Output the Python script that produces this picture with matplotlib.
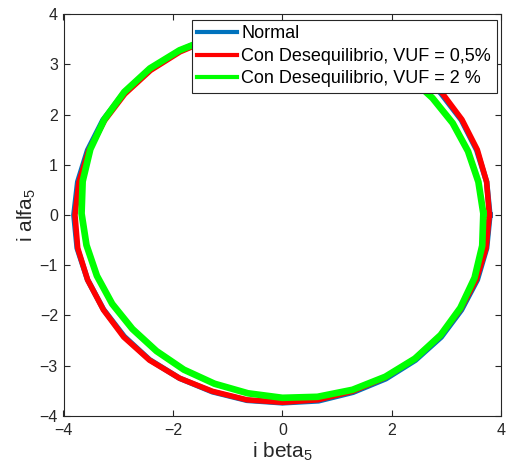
import matplotlib
matplotlib.use("Agg")
import matplotlib.pyplot as plt

# Normal
normal_x = [3.79, 3.73, 3.55, 3.27, 2.89, 2.43, 1.89, 1.29, 0.66, 0.00,
            -0.66, -1.29, -1.89, -2.43, -2.90, -3.28, -3.56, -3.74, -3.81,
            -3.75, -3.56, -3.27, -2.89, -2.43, -1.88, -1.28, -0.65, 0.00,
            0.66, 1.29, 1.89, 2.43, 2.90, 3.27, 3.56, 3.73, 3.79]
normal_y = [0.00, 0.66, 1.29, 1.89, 2.43, 2.89, 3.27, 3.55, 3.72, 3.78,
            3.72, 3.55, 3.27, 2.90, 2.43, 1.89, 1.29, 0.66, 0.00,
            -0.66, -1.29, -1.88, -2.42, -2.88, -3.25, -3.52, -3.69, -3.74,
            -3.70, -3.53, -3.26, -2.89, -2.43, -1.89, -1.29, -0.66, 0.00]

# VUF = 0,5%
vuf05_x = [3.78, 3.73, 3.56, 3.28, 2.91, 2.44, 1.90, 1.29, 0.65, 0.00,
           -0.65, -1.28, -1.87, -2.41, -2.88, -3.25, -3.54, -3.72, -3.79,
           -3.74, -3.56, -3.27, -2.90, -2.43, -1.88, -1.28, -0.65, 0.00,
           0.65, 1.28, 1.87, 2.41, 2.88, 3.25, 3.54, 3.72, 3.78]
vuf05_y = [0.00, 0.66, 1.30, 1.90, 2.44, 2.91, 3.28, 3.55, 3.71, 3.76,
           3.70, 3.52, 3.25, 2.88, 2.41, 1.88, 1.28, 0.65, 0.00,
           -0.66, -1.29, -1.89, -2.43, -2.89, -3.25, -3.51, -3.68, -3.73,
           -3.68, -3.51, -3.24, -2.87, -2.41, -1.88, -1.29, -0.66, 0.00]

# VUF = 2 %
vuf2_x = [3.67, 3.58, 3.39, 3.11, 2.74, 2.30, 1.80, 1.24, 0.63, 0.00,
          -0.64, -1.28, -1.88, -2.42, -2.89, -3.25, -3.51, -3.65, -3.67,
          -3.58, -3.39, -3.11, -2.74, -2.30, -1.80, -1.24, -0.63, 0.00,
          0.64, 1.28, 1.88, 2.42, 2.89, 3.25, 3.51, 3.65, 3.67]
vuf2_y = [0.03, 0.66, 1.27, 1.83, 2.33, 2.77, 3.14, 3.42, 3.61, 3.70,
          3.68, 3.54, 3.28, 2.92, 2.45, 1.91, 1.31, 0.67, 0.03,
          -0.60, -1.21, -1.77, -2.27, -2.71, -3.08, -3.36, -3.55, -3.64,
          -3.62, -3.48, -3.22, -2.86, -2.39, -1.85, -1.25, -0.61, 0.03]

labels = ["Normal", "Con Desequilibrio, VUF = 0,5%", "Con Desequilibrio, VUF = 2 %"]
colors = ["#0072BD", "#FF0000", "#00FF00"]

plt.rcParams["font.family"] = ["Liberation Sans", "DejaVu Sans"]
plt.rcParams["mathtext.default"] = "regular"

fig = plt.figure(figsize=(5.08, 4.71), dpi=100)
ax = fig.add_axes([0.125, 0.117, 0.862, 0.853])

ax.plot(normal_x, normal_y, color=colors[0], linewidth=4, label=labels[0])
ax.plot(vuf05_x, vuf05_y, color=colors[1], linewidth=4, label=labels[1])
ax.plot(vuf2_x, vuf2_y, color=colors[2], linewidth=4.8, label=labels[2])

ax.set_xlim(-4, 4)
ax.set_ylim(-4, 4)
ax.set_xticks([-4, -2, 0, 2, 4])
ax.set_yticks([-4, -3, -2, -1, 0, 1, 2, 3, 4])

ax.tick_params(direction="in", top=True, right=True, length=4, width=0.8,
               labelsize=11.5, colors="#262626")
ax.tick_params(axis="x", pad=5)
ax.tick_params(axis="y", pad=4)
for s in ax.spines.values():
    s.set_color("#262626")
    s.set_linewidth(0.8)

ax.set_xlabel("i beta$_5$", fontsize=15, color="#262626", labelpad=2)
ax.set_ylabel("i alfa$_5$", fontsize=15, color="#262626", labelpad=1)

leg = ax.legend(loc="upper right", bbox_to_anchor=(496.5 / 508, 1 - 20 / 471),
                bbox_transform=fig.transFigure, borderaxespad=0,
                fontsize=13, fancybox=False, framealpha=1, edgecolor="#262626",
                handlelength=2.2, handletextpad=0.25, labelspacing=0.3,
                borderpad=0.3)
leg.get_frame().set_linewidth(0.8)
for ln in leg.get_lines():
    ln.set_linewidth(3)

fig.savefig("out.png", dpi=100)
